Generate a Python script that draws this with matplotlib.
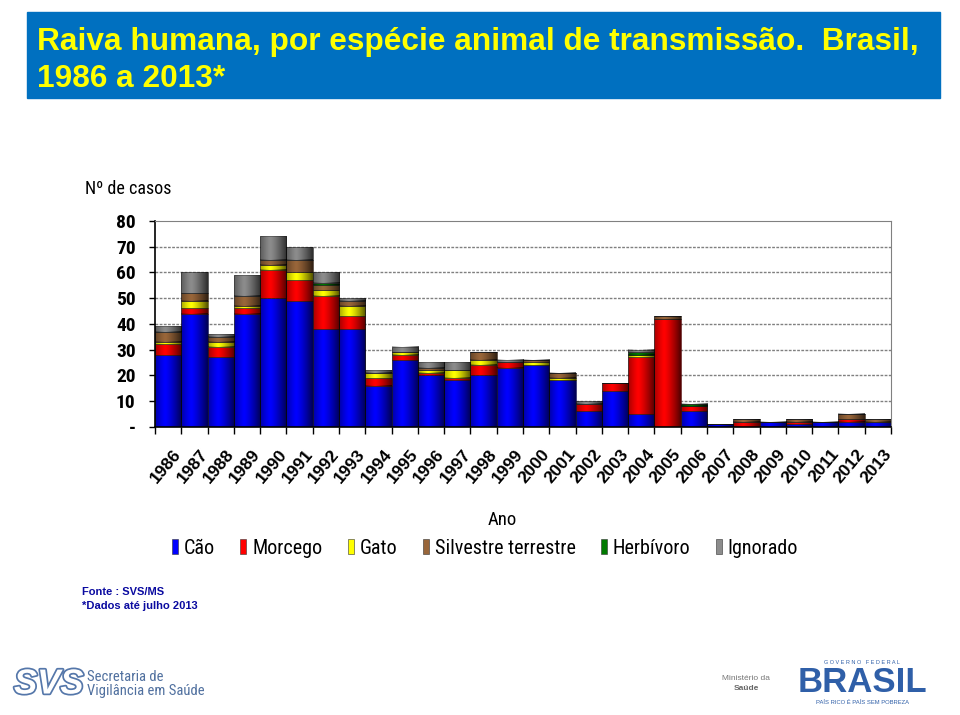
import numpy as np
import matplotlib
matplotlib.use("Agg")
import matplotlib.pyplot as plt
from matplotlib.patches import Rectangle, Patch
import matplotlib.patheffects as pe

# dados (casos por ano)
anos = [str(a) for a in range(1986, 2014)]
cao = [28, 44, 27, 44, 50, 49, 38, 38, 16, 26, 20, 18, 20, 23,
       24, 18, 6, 14, 5, 0, 6, 1, 0, 2, 1, 2, 2, 2]
morcego = [4, 2, 4, 2, 11, 8, 13, 5, 3, 2, 1, 1, 4, 2,
           0, 0, 3, 3, 22, 42, 2, 0, 2, 0, 1, 0, 1, 0]
gato = [1, 3, 2, 1, 2, 3, 2, 4, 2, 1, 1, 3, 2, 0,
        1, 1, 0, 0, 1, 0, 0, 0, 0, 0, 0, 0, 0, 0]
silvestre = [4, 3, 2, 4, 2, 5, 2, 2, 0, 0, 1, 0, 3, 0,
             1, 2, 0, 0, 0, 1, 0, 0, 1, 0, 1, 0, 2, 1]
herbivoro = [0, 0, 0, 0, 0, 0, 1, 0, 0, 0, 0, 0, 0, 0,
             0, 0, 0, 0, 1, 0, 1, 0, 0, 0, 0, 0, 0, 0]
ignorado = [2, 8, 1, 8, 9, 5, 4, 1, 1, 2, 2, 3, 0, 1,
            0, 0, 1, 0, 1, 0, 0, 0, 0, 0, 0, 0, 0, 0]

nomes = ["Cão", "Morcego", "Gato", "Silvestre terrestre", "Herbívoro", "Ignorado"]
cores = ["#0000ff", "#ff0000", "#ffff00", "#99663a", "#007a00", "#8c8c8c"]
yticks = [0, 10, 20, 30, 40, 50, 60, 70, 80]
ylabels = ["-", "10", "20", "30", "40", "50", "60", "70", "80"]

NARROW = ["Liberation Sans Narrow", "Roboto Condensed", "DejaVu Sans"]
ARIAL = ["Liberation Sans", "DejaVu Sans"]

W, H = 960, 715
fig = plt.figure(figsize=(9.6, 7.15), dpi=100)


def fx(px):
    return px / W


def fy(py):
    return 1 - py / H


# caixa do título
fig.patches.append(Rectangle((fx(27), fy(98)), fx(913), 86 / H,
                             transform=fig.transFigure, color="#0070c0", zorder=0))
fig.text(fx(37), fy(50), "Raiva humana, por espécie animal de transmissão.  Brasil,",
         color="#ffff00", fontsize=22.8, fontweight="bold", family=ARIAL, va="baseline")
fig.text(fx(37), fy(87), "1986 a 2013*",
         color="#ffff00", fontsize=22.8, fontweight="bold", family=ARIAL, va="baseline")

ax = fig.add_axes([fx(155), fy(426.7), 736 / W, 205.7 / H])
x = np.arange(len(anos))
series = [cao, morcego, gato, silvestre, herbivoro, ignorado]

# sombreamento tipo cilindro
t = np.linspace(0, 1, 64)
alpha = 0.68 * (np.abs(t - 0.38) / 0.62) ** 1.3
grad = np.zeros((1, 64, 4))
grad[..., 3] = alpha

base = np.zeros(len(anos))
for vals, cor, nome in zip(series, cores, nomes):
    vals = np.array(vals, dtype=float)
    bars = ax.bar(x, vals, width=1.0, bottom=base, color=cor, edgecolor="#1a1a1a",
                  linewidth=0.4, label=nome, zorder=2)
    for b in bars:
        if b.get_height() > 0:
            bx, by = b.get_x(), b.get_y()
            ax.imshow(grad, extent=(bx, bx + b.get_width(), by, by + b.get_height()),
                      aspect="auto", zorder=2.5, interpolation="bilinear")
    base += vals

ax.set_xlim(-0.5, len(anos) - 0.5)
ax.set_ylim(0, 80)

ax.set_yticks(yticks)
ax.set_yticklabels(ylabels, fontsize=14, fontweight="bold", family=NARROW,
                   fontstretch="condensed")
ax.tick_params(axis="y", length=4, width=1, pad=10)
for yv in yticks[1:-1]:
    ax.axhline(yv, color="#808080", lw=1, ls=(0, (2, 1)), zorder=1)

ax.set_xticks(np.arange(-0.5, len(anos), 1))
ax.set_xticklabels([])
ax.tick_params(axis="x", length=5, width=1, direction="out")

for s in ["top", "right"]:
    ax.spines[s].set_color("#808080")
for s in ["left", "bottom"]:
    ax.spines[s].set_color("black")
    ax.spines[s].set_linewidth(1.2)

for i, a in enumerate(anos):
    ax.text(i + 0.4, -0.12, a, transform=ax.get_xaxis_transform(), rotation=50,
            rotation_mode="anchor", ha="right", va="center", fontsize=12.5,
            fontweight="bold", family=ARIAL)

fig.text(fx(85), fy(189), "Nº de casos", fontsize=13, family=NARROW,
         fontstretch="condensed", va="center")
fig.text(fx(502), fy(520), "Ano", fontsize=13.5, family=NARROW,
         fontstretch="condensed", va="center", ha="center")

handles = [Patch(facecolor=c, edgecolor="#333333", lw=0.4) for c in cores]
fig.legend(handles, nomes, loc="center", bbox_to_anchor=(fx(485), fy(548)), ncol=6,
           frameon=False, prop={"family": NARROW, "size": 14.5, "stretch": "condensed"},
           handlelength=0.3, handleheight=0.75, handletextpad=0.3, columnspacing=1.25)

fig.text(fx(82), fy(592), "Fonte : SVS/MS", color="#0a0aa0", fontsize=8,
         fontweight="bold", family=ARIAL, va="center")
fig.text(fx(82), fy(606), "*Dados até julho 2013", color="#0a0aa0", fontsize=8,
         fontweight="bold", family=ARIAL, va="center")

# rodapé com as marcas
fig.text(fx(14), fy(684), "SVS", fontsize=25, fontweight="bold", fontstyle="italic",
         family=ARIAL, color="white", va="center",
         path_effects=[pe.withStroke(linewidth=2.5, foreground="#5577aa")])
fig.text(fx(87), fy(677), "Secretaria de", fontsize=10.5, family=NARROW,
         fontstretch="condensed", color="#50709f", va="center")
fig.text(fx(87), fy(691), "Vigilância em Saúde", fontsize=10.5, family=NARROW,
         fontstretch="condensed", color="#50709f", va="center")
fig.text(fx(746), fy(678), "Ministério da", fontsize=6, family=ARIAL,
         color="#777777", va="center", ha="center")
fig.text(fx(746), fy(688), "Saúde", fontsize=6, family=ARIAL, fontweight="bold",
         color="#666666", va="center", ha="center")
fig.text(fx(862), fy(663), "G O V E R N O   F E D E R A L", fontsize=4, family=ARIAL,
         color="#2f5fa8", va="center", ha="center")
fig.text(fx(862), fy(682), "BRASIL", fontsize=25, fontweight="bold", family=ARIAL,
         color="#2f5fa8", va="center", ha="center")
fig.text(fx(862), fy(703), "PAÍS RICO É PAÍS SEM POBREZA", fontsize=4.2, family=ARIAL,
         color="#2f5fa8", va="center", ha="center")

fig.savefig("out.png", dpi=100)
